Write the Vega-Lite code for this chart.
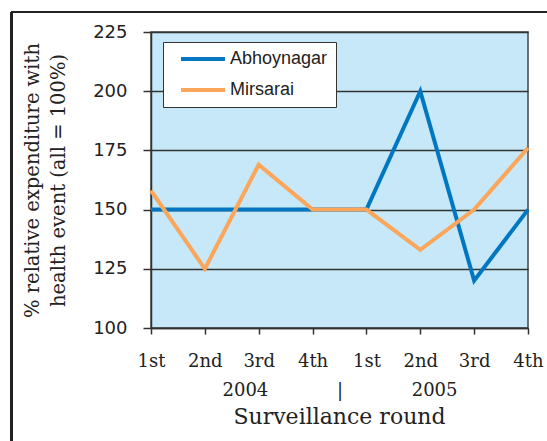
{
  "$schema": "https://vega.github.io/schema/vega-lite/v6.json",
  "width": 377,
  "height": 296,
  "autosize": {"type": "none"},
  "padding": {"left": 151, "top": 32, "right": 19, "bottom": 113},
  "background": "white",
  "title": {
    "text": "Surveillance round",
    "orient": "bottom",
    "font": "DejaVu Serif",
    "fontSize": 22,
    "fontWeight": "normal",
    "color": "#222",
    "offset": -35
  },
  "config": {
    "view": {"fill": "#c6e8f8", "stroke": "#444", "strokeWidth": 1.5}
  },
  "data": {
    "values": [
      {"round": "1st 2004", "site": "Abhoynagar", "value": 150},
      {"round": "2nd 2004", "site": "Abhoynagar", "value": 150},
      {"round": "3rd 2004", "site": "Abhoynagar", "value": 150},
      {"round": "4th 2004", "site": "Abhoynagar", "value": 150},
      {"round": "1st 2005", "site": "Abhoynagar", "value": 150},
      {"round": "2nd 2005", "site": "Abhoynagar", "value": 200},
      {"round": "3rd 2005", "site": "Abhoynagar", "value": 120},
      {"round": "4th 2005", "site": "Abhoynagar", "value": 150},
      {"round": "1st 2004", "site": "Mirsarai", "value": 158},
      {"round": "2nd 2004", "site": "Mirsarai", "value": 125},
      {"round": "3rd 2004", "site": "Mirsarai", "value": 169},
      {"round": "4th 2004", "site": "Mirsarai", "value": 150},
      {"round": "1st 2005", "site": "Mirsarai", "value": 150},
      {"round": "2nd 2005", "site": "Mirsarai", "value": 133},
      {"round": "3rd 2005", "site": "Mirsarai", "value": 150},
      {"round": "4th 2005", "site": "Mirsarai", "value": 176}
    ]
  },
  "layer": [
    {
      "mark": {"type": "line", "strokeWidth": 4, "strokeJoin": "miter"},
      "encoding": {
        "x": {
          "field": "round",
          "type": "ordinal",
          "sort": null,
          "scale": {"type": "point", "padding": 0},
          "axis": {
            "labelExpr": "split(datum.label, ' ')[0]",
            "labelAngle": 0,
            "labelFont": "DejaVu Serif",
            "labelFontSize": 18,
            "labelColor": "#222",
            "labelPadding": 18,
            "tickSize": 6,
            "tickColor": "#333",
            "tickWidth": 1.5,
            "domainColor": "#333",
            "domainWidth": 1.5,
            "grid": false,
            "title": "2004\u00a0\u00a0\u00a0\u00a0\u00a0\u00a0\u00a0\u00a0\u00a0\u00a0\u00a0\u00a0|\u00a0\u00a0\u00a0\u00a0\u00a0\u00a0\u00a0\u00a0\u00a0\u00a0\u00a0\u00a02005",
            "titleFont": "DejaVu Serif",
            "titleFontSize": 18,
            "titleFontWeight": "normal",
            "titleColor": "#222",
            "titlePadding": 11
          }
        },
        "y": {
          "field": "value",
          "type": "quantitative",
          "scale": {"domain": [100, 225], "nice": false, "zero": false},
          "axis": {
            "values": [100, 125, 150, 175, 200, 225],
            "labelFont": "DejaVu Sans",
            "labelFontSize": 18,
            "labelColor": "#222",
            "labelPadding": 16,
            "tickSize": 8,
            "tickColor": "#333",
            "tickWidth": 1.5,
            "domainColor": "#333",
            "domainWidth": 1.5,
            "grid": true,
            "gridColor": "#333",
            "gridWidth": 1.5,
            "gridOpacity": 1,
            "title": ["% relative expenditure with", "health event (all = 100%)"],
            "titleFont": "DejaVu Serif",
            "titleFontSize": 19.5,
            "titleFontWeight": "normal",
            "titleColor": "#222",
            "titleLineHeight": 26,
            "titlePadding": 24
          }
        },
        "color": {
          "field": "site",
          "type": "nominal",
          "scale": {"domain": ["Abhoynagar", "Mirsarai"], "range": ["#0077c0", "#fba65a"]},
          "legend": {
            "orient": "none",
            "legendX": 12,
            "legendY": 10,
            "title": null,
            "symbolType": "M-4,0H4",
            "symbolSize": 121,
            "symbolStrokeWidth": 4,
            "symbolOffset": 23,
            "labelFont": "Liberation Sans",
            "labelFontSize": 18,
            "labelColor": "#222",
            "labelOffset": 18,
            "padding": 8,
            "rowPadding": 13,
            "fillColor": "white",
            "strokeColor": "#333"
          }
        }
      }
    },
    {
      "mark": {"type": "rule", "color": "#222", "strokeWidth": 2},
      "encoding": {
        "x": {"datum": -1.594, "type": "quantitative", "scale": {"domain": [1, 8], "nice": false, "zero": false}, "axis": null},
        "x2": {"datum": 8.5},
        "y": {"datum": 233.4, "type": "quantitative"}
      }
    },
    {
      "mark": {"type": "rule", "color": "#222", "strokeWidth": 2},
      "encoding": {
        "x": {"datum": -1.594, "type": "quantitative", "scale": {"domain": [1, 8], "nice": false, "zero": false}, "axis": null},
        "y": {"datum": 233.4, "type": "quantitative"},
        "y2": {"datum": 52.3}
      }
    }
  ],
  "resolve": {"scale": {"x": "independent"}}
}
